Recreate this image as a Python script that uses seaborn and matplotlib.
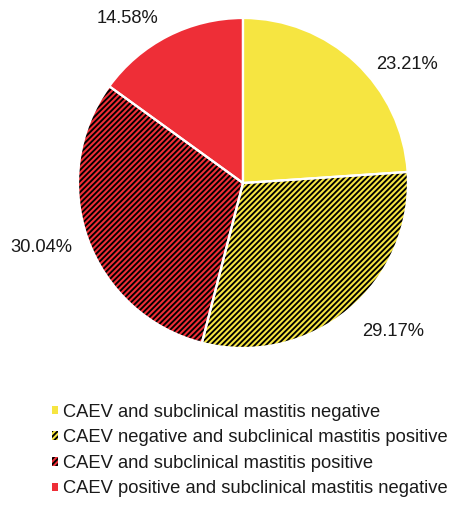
import matplotlib
matplotlib.use('Agg')
import matplotlib.pyplot as plt
import seaborn as sns

# data
categories = ['CAEV and subclinical mastitis negative',
              'CAEV negative and subclinical mastitis positive',
              'CAEV and subclinical mastitis positive',
              'CAEV positive and subclinical mastitis negative']
values = [23.21, 29.17, 30.04, 14.58]
pct_labels = ['23.21%', '29.17%', '30.04%', '14.58%']
colors = ['#F6E541', '#F6E541', '#EE2E37', '#EE2E37']
hatches = ['', '//////', '//////', '']

sns.set_theme(style='white')
plt.rcParams['font.family'] = ['Liberation Sans', 'DejaVu Sans']
plt.rcParams['hatch.linewidth'] = 1.35

fig = plt.figure(figsize=(4.5, 5.09), dpi=100)
ax = fig.add_axes([0.1733, 0.3163, 0.7333, 0.6483])

# filled + hatched wedges
wedges, texts = ax.pie(values, colors=colors, startangle=90, counterclock=False,
                       labels=pct_labels, labeldistance=1.12,
                       wedgeprops=dict(edgecolor='black', linewidth=0),
                       textprops=dict(fontsize=13.2, color='#1a1a1a'))
for w, h in zip(wedges, hatches):
    w.set_hatch(h)

# label placement like the original (outside end, hand-nudged)
label_pos = [(0.81, 0.72), (0.725, -0.90), (-1.035, -0.39), (-0.51, 1.0)]
for t, p in zip(texts, label_pos):
    t.set_position(p)

# white separators on top
ax.pie(values, colors=['none'] * 4, startangle=90, counterclock=False,
       wedgeprops=dict(edgecolor='white', linewidth=1.6, fill=False))
ax.set_xlim(-1, 1)
ax.set_ylim(-1, 1)
ax.set_aspect('equal')

fig.legend(wedges, categories, loc='upper left', bbox_to_anchor=(0.115, 0.207),
           frameon=False, fontsize=13.2, handlelength=0.34, handleheight=0.34,
           handletextpad=0.3, labelspacing=0.47, borderaxespad=0, borderpad=0,
           labelcolor='#1a1a1a')

fig.savefig('out.png', dpi=100)
